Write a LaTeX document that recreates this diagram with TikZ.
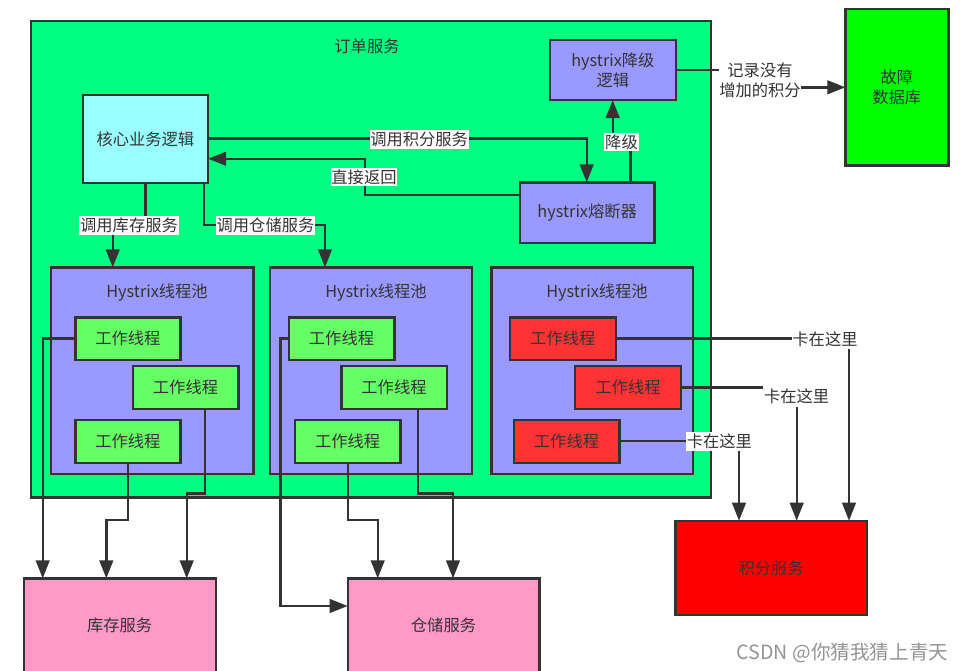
\documentclass[tikz,border=0pt]{standalone}
\usepackage{fontspec}
\setmainfont{Noto Sans CJK SC}
\usetikzlibrary{arrows.meta}
\definecolor{ink}{HTML}{333333}
\definecolor{outergreen}{HTML}{00FF80}
\definecolor{corecyan}{HTML}{99FFFF}
\definecolor{poolblue}{HTML}{9999FF}
\definecolor{workgreen}{HTML}{66FF66}
\definecolor{workred}{HTML}{FF3333}
\definecolor{dbgreen}{HTML}{00FF00}
\definecolor{svcred}{HTML}{FF0000}
\definecolor{svcpink}{HTML}{FF99C8}
\tikzset{
  txt/.style={font=\fontsize{12.2}{15}\selectfont,text=ink,align=center,inner sep=0pt},
  box/.style={txt,draw=ink,line width=1.8pt,rectangle,outer sep=0pt},
  wire/.style={draw=ink,line width=1.8pt},
  conn/.style={wire,-{Triangle[length=13.5pt,width=10.2pt]}},
  lab/.style={txt,fill=white,inner xsep=0.6pt,minimum height=14.2pt},
}
\newcommand{\bx}[7]{%
  \pgfmathsetmacro{\cx}{(#2+#4)/2}\pgfmathsetmacro{\cy}{(#3+#5)/2}%
  \node[box,fill=#6,minimum width={(#4-#2)*0.75pt},minimum height={(#5-#3)*0.75pt}] (#1) at (\cx,\cy) {#7};}
\begin{document}
\begin{tikzpicture}[x=0.75pt,y=-0.75pt]
\clip (0,0) rectangle (964,671);
\fill[white] (0,0) rectangle (964,671);
\bx{order}{31}{21}{710.7}{497.3}{outergreen}{}
\node[txt] (ordertitle) at (367,46.5) {订单服务};
\bx{core}{82.7}{95}{208}{182.7}{corecyan}{核心业务逻辑}
\bx{degrade}{550}{40}{675.7}{100}{poolblue}{hystrix降级\\逻辑}
\bx{breaker}{520}{182.3}{654.3}{242.7}{poolblue}{hystrix熔断器}
\bx{poolA}{51}{267.3}{253.3}{473.7}{poolblue}{}
\bx{poolB}{270}{267.3}{472}{473.7}{poolblue}{}
\bx{poolC}{491.3}{267.3}{693}{473.7}{poolblue}{}
\node[txt] (titleA) at (157,292.4) {Hystrix线程池};
\node[txt] (titleB) at (376,292.4) {Hystrix线程池};
\node[txt] (titleC) at (597,292.4) {Hystrix线程池};
\bx{wA1}{75.3}{317.3}{180.3}{360}{workgreen}{工作线程}
\bx{wA2}{132.7}{366}{238.3}{408.7}{workgreen}{工作线程}
\bx{wA3}{75.3}{419.7}{180.3}{462.7}{workgreen}{工作线程}
\bx{wB1}{288.7}{317.3}{394.3}{360}{workgreen}{工作线程}
\bx{wB2}{341.3}{366}{446.7}{408.7}{workgreen}{工作线程}
\bx{wB3}{295}{419.7}{400.3}{462.7}{workgreen}{工作线程}
\bx{wC1}{510}{317.3}{615.7}{360}{workred}{工作线程}
\bx{wC2}{575}{366}{681}{408.7}{workred}{工作线程}
\bx{wC3}{513.7}{419.7}{619.3}{462.7}{workred}{工作线程}
\bx{db}{845.3}{8.7}{948.3}{165.3}{dbgreen}{故障\\数据库}
\bx{points}{675.3}{520.7}{867}{615}{svcred}{积分服务}
\bx{stock}{23.7}{578.3}{215.7}{673}{svcpink}{库存服务}
\bx{store}{347.7}{578.3}{539.3}{673}{svcpink}{仓储服务}
% connectors inside the order service
\draw[conn] (145.3,0 |- core.south) -- (145.3,225) -- (112.7,225) -- (112.7,0 |- poolA.north);
\draw[conn] (204,0 |- core.south) -- (204,225) -- (325,225) -- (325,0 |- poolB.north);
\draw[conn] (0,138.5 -| core.east) -- (586.7,138.5) -- (586.7,0 |- breaker.north);
\draw[conn] (0,195 -| breaker.west) -- (364.7,195) -- (364.7,158.7) -- (0,158.7 -| core.east);
\draw[conn] (630.3,0 |- breaker.north) -- (630.3,141.5) -- (612.7,141.5) -- (612.7,0 |- degrade.south);
\draw[conn] (0,70 -| degrade.east) -- (760,70) -- (760,87.3) -- (0,87.3 -| db.west);
% worker threads to services
\draw[conn] (0,338.3 -| wA1.west) -- (42.7,338.3) -- (42.7,0 |- stock.north);
\draw[conn] (127.7,0 |- wA3.south) -- (127.7,520) -- (106.3,520) -- (106.3,0 |- stock.north);
\draw[conn] (205,0 |- wA2.south) -- (205,493.3) -- (186.7,493.3) -- (186.7,0 |- stock.north);
\draw[conn] (0,338.3 -| wB1.west) -- (280.3,338.3) -- (280.3,606) -- (0,606 -| store.west);
\draw[conn] (347.7,0 |- wB3.south) -- (347.7,520) -- (377.7,520) -- (377.7,0 |- store.north);
\draw[conn] (417.7,0 |- wB2.south) -- (417.7,493.3) -- (453,493.3) -- (453,0 |- store.north);
\draw[conn] (0,338.3 -| wC1.east) -- (849,338.3) -- (849,0 |- points.north);
\draw[conn] (0,387.3 -| wC2.east) -- (796.7,387.3) -- (796.7,0 |- points.north);
\draw[conn] (0,441 -| wC3.east) -- (739,441) -- (739,0 |- points.north);
% connector labels
\node[lab] (lstock) at (129,225.5) {调用库存服务};
\node[lab] (lstore) at (265.5,225.5) {调用仓储服务};
\node[lab] (lpoints) at (419.2,139.5) {调用积分服务};
\node[lab] (lback) at (364,177) {直接返回};
\node[lab] (ldown) at (621.5,142) {降级};
\node[lab] (lrec) at (760,80) {记录没有\\增加的积分};
\node[lab] (lstuckA) at (825,339.5) {卡在这里};
\node[lab,minimum height=16.4pt] (lstuckB) at (796.7,396.5) {卡在这里};
\node[lab] (lstuckC) at (719.3,441.5) {卡在这里};
\node[font=\fontsize{14.7}{17}\selectfont,text=black!42,inner sep=0pt] (mark) at (842.5,653) {CSDN @你猜我猜上青天};
\end{tikzpicture}
\end{document}
